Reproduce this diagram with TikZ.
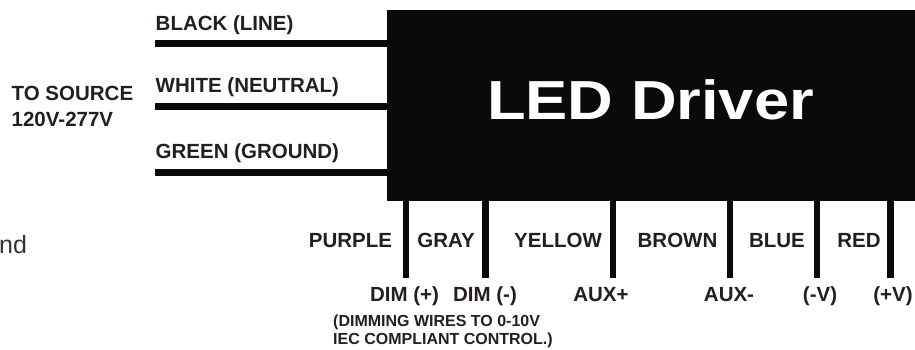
\documentclass[tikz,border=0pt]{standalone}
\usepackage{fontspec}
\setmainfont{Liberation Sans}
\definecolor{boxblack}{HTML}{0A0A0A}
\definecolor{labelgray}{HTML}{231F20}
\definecolor{ndgray}{HTML}{333333}
\tikzset{
  wire/.style={line width=6.5pt, draw=boxblack},
  lbl/.style={inner sep=0pt, text=labelgray, font=\bfseries\fontsize{20.5}{24}\selectfont},
  small/.style={inner sep=0pt, text=labelgray, font=\bfseries\fontsize{16}{18}\selectfont},
}
\begin{document}
\begin{tikzpicture}[x=1pt,y=-1pt]
\useasboundingbox (0,0) rectangle (915,349);
% driver box
\node[fill=boxblack, inner sep=0pt, minimum width=545pt, minimum height=191.5pt, anchor=north west] (driver) at (387,9.5) {};
\node[inner sep=0pt, anchor=base, text=white, font=\bfseries\fontsize{55}{60}\selectfont] (drivertitle) at (650.5,119.3) {\scalebox{1.15}[1]{LED Driver}};
% input wires
\coordinate (inA) at (155,43.3);
\coordinate (inB) at (155,106.7);
\coordinate (inC) at (155,172.3);
\draw[wire] (inA) -- (inA -| driver.west);
\draw[wire] (inB) -- (inB -| driver.west);
\draw[wire] (inC) -- (inC -| driver.west);
\node[lbl, anchor=base west] (lblblack) at (155.5,30.6) {BLACK (LINE)};
\node[lbl, anchor=base west] (lblwhite) at (155.5,92.7) {WHITE (NEUTRAL)};
\node[lbl, anchor=base west] (lblgreen) at (155.5,158.3) {GREEN (GROUND)};
\node[lbl, anchor=base west] (src1) at (11.5,100.7) {TO SOURCE};
\node[lbl, anchor=base west] (src2) at (11.5,126) {120V-277V};
% cropped word on left
\node[inner sep=0pt, anchor=base west, text=ndgray, font=\fontsize{25}{30}\selectfont] (ndtext) at (-1,253) {nd};
% output wires
\coordinate (oP) at (406,278);
\coordinate (oG) at (485.5,278);
\coordinate (oY) at (613,278);
\coordinate (oBr) at (730,278);
\coordinate (oBl) at (817,278);
\coordinate (oR) at (890.5,278);
\foreach \c in {oP,oG,oY,oBr,oBl,oR}{
  \draw[wire] (\c) -- (\c |- driver.south);
}
\node[lbl, anchor=base] (lpurple) at (350.5,247.7) {PURPLE};
\node[lbl, anchor=base] (lgray) at (446,247.7) {GRAY};
\node[lbl, anchor=base] (lyellow) at (558,247.7) {YELLOW};
\node[lbl, anchor=base] (lbrown) at (677.5,247.7) {BROWN};
\node[lbl, anchor=base] (lblue) at (777,247.7) {BLUE};
\node[lbl, anchor=base] (lred) at (859,247.7) {RED};
\node[lbl, anchor=base] (tdimp) at (404.5,301.5) {DIM (+)};
\node[lbl, anchor=base] (tdimm) at (485,301.5) {DIM (-)};
\node[lbl, anchor=base] (tauxp) at (601,301.5) {AUX+};
\node[lbl, anchor=base] (tauxm) at (729,301.5) {AUX-};
\node[lbl, anchor=base] (tnegv) at (820,301.5) {(-V)};
\node[lbl, anchor=base] (tposv) at (893,301.5) {(+V)};
\node[small, anchor=base west] (note1) at (333,326.7) {(DIMMING WIRES TO 0-10V};
\node[small, anchor=base west] (note2) at (333,344.3) {IEC COMPLIANT CONTROL.)};
\end{tikzpicture}
\end{document}
